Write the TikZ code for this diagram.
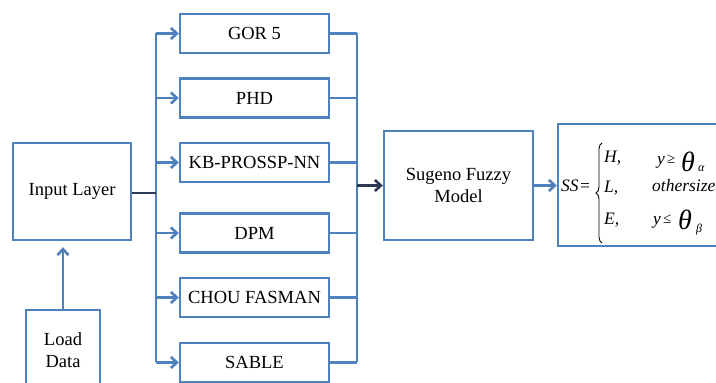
\documentclass[tikz,border=0pt]{standalone}
\usepackage{fontspec}
\setmainfont{Liberation Serif}
\usetikzlibrary{arrows.meta,decorations.pathreplacing}
\definecolor{boxblue}{RGB}{79,129,189}
\definecolor{darkflow}{RGB}{44,58,84}
\tikzset{
  x=1pt, y=1pt,
  blk/.style={draw=boxblue, line width=2.4pt, fill=white, align=center,
    font=\fontsize{18.5}{22}\selectfont, inner sep=0pt},
  method/.style={blk, minimum width=149pt, minimum height=39pt},
  wire/.style={draw=boxblue, line width=2.6pt},
  flow/.style={wire, -{Straight Barb[length=6pt,width=11pt]}},
  darkwire/.style={draw=darkflow, line width=2.6pt},
  darkflowarrow/.style={darkwire, -{Straight Barb[length=6pt,width=11pt]}},
  eq/.style={font=\fontsize{17.5}{20}\selectfont\itshape, inner sep=0pt, anchor=base west},
  rel/.style={font=\fontsize{15}{18}\selectfont, inner sep=0pt, anchor=base west},
  bigtheta/.style={font=\fontsize{28}{30}\selectfont\itshape, inner sep=0pt, anchor=base west},
  sub/.style={font=\fontsize{12}{14}\selectfont\itshape, inner sep=0pt, anchor=base west},
}
\begin{document}
\begin{tikzpicture}
\clip (0,0) rectangle (716,383);
\fill[white] (0,0) rectangle (716,383);

% left-hand blocks
\node[blk, minimum width=118pt, minimum height=97pt] (inp) at (72,191.5) {Input Layer};
\node[draw=boxblue, line width=2.4pt, fill=white, minimum width=74pt, minimum height=90pt] (load) at (63,28) {};
\node[font=\fontsize{18.5}{22}\selectfont, align=center] (loadtxt) at (63,33) {Load\\Data};

% prediction methods
\node[method] (gor)   at (254.5,349.5) {GOR 5};
\node[method] (phd)   at (254.5,285)   {PHD};
\node[method] (kb)    at (254.5,220.5) {KB-PROSSP-NN};
\node[method] (dpm)   at (254.5,150)   {DPM};
\node[method] (chou)  at (254.5,85.5)  {CHOU FASMAN};
\node[method] (sable) at (254.5,20.5)  {SABLE};

% fuzzy model and output
\node[blk, minimum width=149pt, minimum height=109pt] (sug) at (458.5,197.5) {Sugeno Fuzzy\\Model};
\node[draw=boxblue, line width=2.4pt, fill=white, minimum width=180pt, minimum height=122pt] (ss) at (648,198) {};

% bus positions
\coordinate (busL) at (156,0);
\coordinate (busR) at (357,0);

% fan-out bus
\draw[wire] (busL |- gor.west) -- (busL |- sable.west);
\foreach \m in {gor,phd,kb,dpm,chou,sable}
  \draw[flow] (busL |- \m.west) -- (\m.west);

% fan-in bus
\draw[wire] (busR |- gor.east) -- (busR |- sable.east);
\foreach \m in {gor,phd,kb,dpm,chou,sable}
  \draw[wire] (\m.east) -- (busR |- \m.east);

% main flow
\draw[darkwire] (inp.east |- 0,190) -- (busL |- 0,190);
\draw[darkflowarrow] (busR |- sug.west) -- (sug.west);
\draw[flow] (sug.east) -- (ss.west |- sug.east);
\draw[flow, shorten >=6pt] (load.north) -- (load.north |- inp.south);

% decision rule
\node[eq] (lhs) at (561,191) {SS};
\node[font=\fontsize{17.5}{20}\selectfont, inner sep=0pt, anchor=base west] (eqs) at (580,191) {=};
\draw[decorate, decoration={brace, amplitude=6pt}, line width=0.9pt] (602,140) -- (602,240);

\node[eq] (rH) at (604,220) {H,};
\node[eq] (rL) at (604,190) {L,};
\node[eq] (rE) at (604,158) {E,};

\node[eq] (y1) at (657,218) {y};
\node[rel] (ge) at (667,219) {≥};
\node[bigtheta] (t1) at (681,211) {θ};
\node[sub] (a1) at (698,211) {α};

\node[eq] (oth) at (652,191) {othersize};

\node[eq] (y2) at (653,158) {y};
\node[rel] (le) at (663,159) {≤};
\node[bigtheta] (t2) at (678,153) {θ};
\node[sub] (b2) at (696,150) {β};
\end{tikzpicture}
\end{document}
